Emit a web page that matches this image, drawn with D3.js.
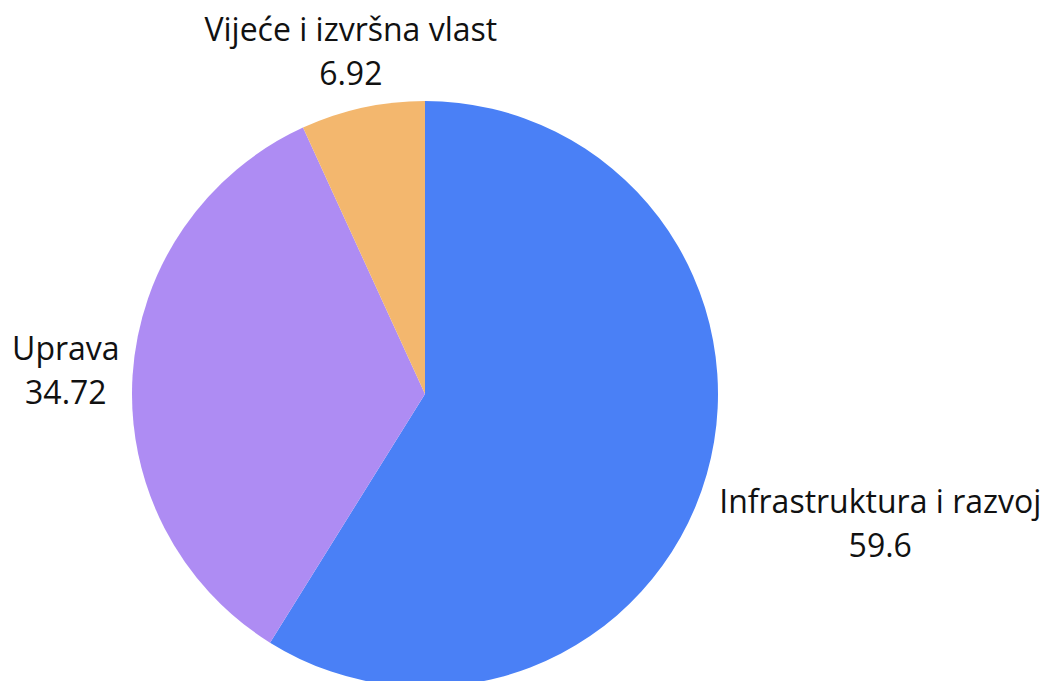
<!DOCTYPE html>
<html>
<head>
<meta charset="utf-8">
<script src="https://cdn.jsdelivr.net/npm/d3@7"></script>
<style>
  html, body { margin: 0; padding: 0; background: #fff; }
  svg { display: block; }
</style>
</head>
<body>
<div id="chart-container"></div>
<script>
const categories = ['Infrastruktura i razvoj', 'Uprava', 'Vijeće i izvršna vlast']
const values = [59.6, 34.72, 6.92]
const colors = ['#4a80f6', '#ae8cf3', '#f3b76e']

const chartWidth = 1042
const chartHeight = 681
const center = { x: 425, y: 394 }
const radius = 293
const labelOffset = 13
const fontSize = 32
const lineHeight = 44

const data = categories.map((name, i) => ({ name, value: values[i], color: colors[i] }))

const svg = d3
  .select('#chart-container')
  .append('svg')
  .attr('width', chartWidth)
  .attr('height', chartHeight)

const pie = d3.pie().sort(null).value(d => d.value)
const arc = d3.arc().innerRadius(0).outerRadius(radius)

const arcs = pie(data)

const chart = svg.append('g').attr('transform', `translate(${center.x},${center.y})`)

chart
  .selectAll('path')
  .data(arcs)
  .enter()
  .append('path')
  .attr('d', arc)
  .attr('fill', d => d.data.color)

// two-line label block, centred on itself, pushed out past the slice edge
chart
  .selectAll('text')
  .data(arcs)
  .enter()
  .append('text')
  .attr('font-family', '"Open Sans", "Noto Sans", sans-serif')
  .attr('font-size', fontSize)
  .attr('fill', '#111')
  .attr('text-anchor', 'middle')
  .each(function (d) {
    const mid = (d.startAngle + d.endAngle) / 2
    const dx = Math.sin(mid)
    const dy = -Math.cos(mid)
    const ax = dx * (radius + labelOffset)
    const ay = dy * (radius + labelOffset)
    let firstBaseline
    if (dy > 0.2) firstBaseline = ay + 35
    else if (dy < -0.2) firstBaseline = ay - lineHeight - 10
    else firstBaseline = ay - 14
    const text = d3.select(this)
    const nameSpan = text.append('tspan').attr('y', firstBaseline).text(d.data.name)
    const valueSpan = text
      .append('tspan')
      .attr('y', firstBaseline + lineHeight)
      .text(d.data.value)
    const w = Math.max(
      nameSpan.node().getComputedTextLength(),
      valueSpan.node().getComputedTextLength()
    )
    const cx = dx > 0.5 ? ax + w / 2 : dx < -0.5 ? ax - w / 2 : ax - 9
    nameSpan.attr('x', cx)
    valueSpan.attr('x', cx)
  })
</script>
</body>
</html>
